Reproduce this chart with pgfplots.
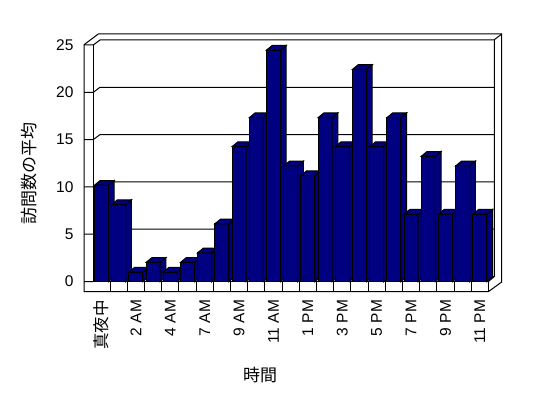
\documentclass[border=0pt]{standalone}
\usepackage{pgfplots}
\pgfplotsset{compat=1.18}
\usepackage{fontspec}
\setmainfont{Liberation Sans}
\newfontfamily\jp{Noto Sans CJK JP}
\definecolor{navy}{RGB}{0,0,128}
% 3D column: front, side and top faces; height taken from the data value
\pgfdeclareplotmark{bar3d}{%
  \pgfmathsetlengthmacro{\barh}{\ry*9.65}%
  \pgfpathmoveto{\pgfqpoint{-7pt}{0pt}}%
  \pgfpathlineto{\pgfqpoint{7pt}{0pt}}%
  \pgfpathlineto{\pgfpoint{7pt}{-\barh}}%
  \pgfpathlineto{\pgfpoint{-7pt}{-\barh}}%
  \pgfpathclose
  \pgfusepathqfillstroke
  \pgfpathmoveto{\pgfqpoint{7pt}{0pt}}%
  \pgfpathlineto{\pgfqpoint{12.7pt}{4.7pt}}%
  \pgfpathlineto{\pgfpoint{12.7pt}{4.7pt-\barh}}%
  \pgfpathlineto{\pgfpoint{7pt}{-\barh}}%
  \pgfpathclose
  \pgfusepathqfillstroke
  \pgfpathmoveto{\pgfqpoint{-7pt}{0pt}}%
  \pgfpathlineto{\pgfqpoint{-1.3pt}{4.7pt}}%
  \pgfpathlineto{\pgfqpoint{12.7pt}{4.7pt}}%
  \pgfpathlineto{\pgfqpoint{7pt}{0pt}}%
  \pgfpathclose
  \pgfusepathqfillstroke
}
\pgfplotstableread{
x v
0 10
1 8
2 1
3 2
4 1
5 2
6 3
7 6
8 14
9 17
10 24
11 12
12 11
13 17
14 14
15 22
16 14
17 17
18 7
19 13
20 7
21 12
22 7
}\visits
\begin{document}
\begin{tikzpicture}
\path[use as bounding box, fill=white] (0pt,0pt) rectangle (548pt,-398pt);
\begin{scope}[x=1pt,y=-1pt,line width=1pt]
  \draw (84,291.7) -- (84,44.7) -- (98.3,34) -- (501.7,34) -- (501.7,282) -- (488.3,291.7) -- cycle;
  \draw (93.3,44.7) -- (93.3,281.7) -- (488.3,281.7) -- (488.3,291.7);
  \draw (488.3,281.7) -- (494.3,276.5) -- (494.3,39.7) -- (501.7,34);
  \foreach \v in {0,5,...,25} {
    \draw (84,{281.5-9.46*\v}) -- (93.3,{281.5-9.46*\v}) -- (100,{276.5-9.46*\v}) -- (494.3,{276.5-9.46*\v});
  }
  \foreach \k in {1,...,22} {
    \draw ({92.9+17.2*\k},281.7) -- ++(0,10);
  }
\end{scope}
\begin{axis}[
  at={(92.9pt,-281.7pt)}, anchor=south west,
  scale only axis, width=395.6pt, height=241.25pt,
  xmin=-0.5, xmax=22.5, ymin=0, ymax=25,
  axis line style={draw=none}, ytick=\empty,
  xtick={0,2,...,22},
  xticklabels={{\jp\fontsize{16.5}{18}\selectfont 真夜中},2 AM,4 AM,7 AM,9 AM,11 AM,1 PM,3 PM,5 PM,7 PM,9 PM,11 PM},
  major tick length=0pt,
  xticklabel style={rotate=90, anchor=east, font=\fontsize{15.5}{18}\selectfont},
  xticklabel shift=14.8pt,
  xlabel={\jp 時間},
  xlabel style={at={(axis description cs:0.4224,-0.3867)}, anchor=center, font=\fontsize{17}{20}\selectfont},
  clip=false,
]
\addplot[ybar, bar width=14pt, fill=navy, draw=black, line width=1pt] table[x=x, y=v] {\visits};
\addplot[only marks, mark=bar3d, visualization depends on=rawy\as\ry,
  mark options={fill=navy, draw=black, line width=1pt}] table[x=x, y=v] {\visits};
\end{axis}
\begin{axis}[
  at={(84pt,-281.5pt)}, anchor=south west,
  scale only axis, width=10pt, height=236.5pt,
  xmin=0, xmax=1, ymin=0, ymax=25,
  axis line style={draw=none}, xtick=\empty, ytick={0,5,...,25},
  major tick length=0pt,
  /pgf/number format/assume math mode=true,
  yticklabel style={font=\fontsize{15.5}{18}\selectfont},
  yticklabel shift=7pt,
  ylabel={\jp 訪問数の平均},
  ylabel style={at={(axis description cs:-5.5,0.4575)}, anchor=center, font=\fontsize{17}{20}\selectfont},
]
\end{axis}
\end{tikzpicture}
\end{document}
